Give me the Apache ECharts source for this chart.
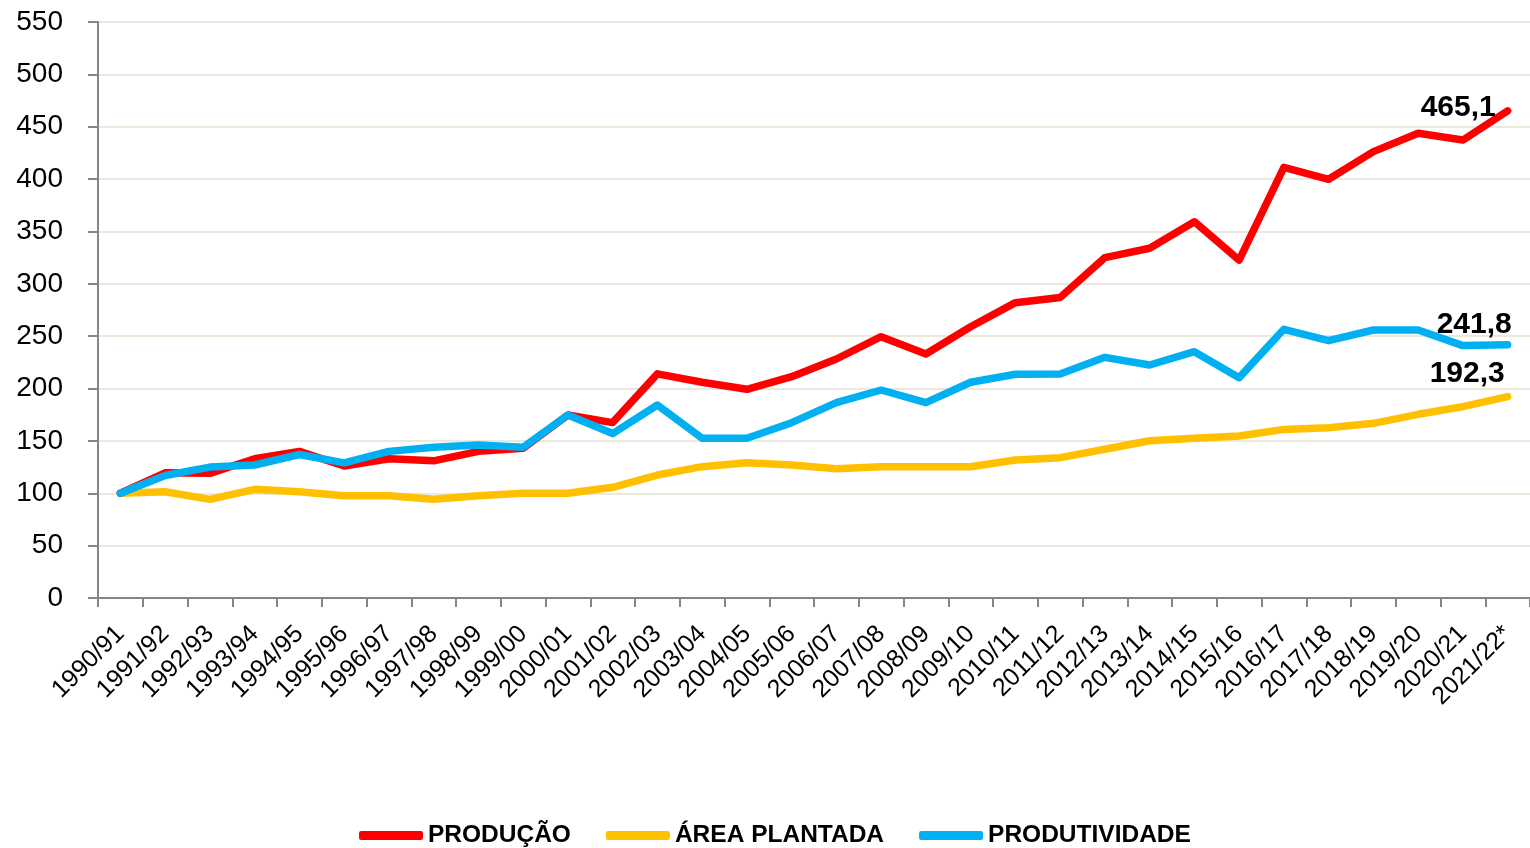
<!DOCTYPE html>
<html>
<head>
<meta charset="utf-8">
<script src="https://cdn.jsdelivr.net/npm/echarts@6/dist/echarts.min.js"></script>
<style>
html,body{margin:0;padding:0;background:#fff;}
#chart{width:1530px;height:848px;}
</style>
</head>
<body>
<div id="chart"></div>
<script>
const categories = ["1990/91","1991/92","1992/93","1993/94","1994/95","1995/96","1996/97","1997/98","1998/99","1999/00","2000/01","2001/02","2002/03","2003/04","2004/05","2005/06","2006/07","2007/08","2008/09","2009/10","2010/11","2011/12","2012/13","2013/14","2014/15","2015/16","2016/17","2017/18","2018/19","2019/20","2020/21","2021/22*"];
const producao = [100,119.5,119,133,140,126,133,131,140,143,174.7,167.5,214,206,199.3,211.3,228.2,249.5,233,259,282,287,325,334,359.3,322.7,411.2,399.8,426.2,443.7,437.3,465.1];
const areaPlantada = [100,101.5,94.2,103.8,101.5,97.7,97.7,94.2,97.7,100,100,105.7,117.4,125.4,129.2,127,123.5,125.4,125.4,125.4,131.8,134,142,150.2,152.5,154.7,161,162.6,166.8,175.4,182.7,192.3];
const produtividade = [100,117,125,127,137,129,140,144,146,144,174.7,157,184.3,152.5,152.5,167.4,186.5,198.6,186.5,206,213.6,213.9,229.8,222.5,235.2,210.4,256.6,245.7,255.9,255.9,241,241.8];
const seriesNames = ["PRODUÇÃO","ÁREA PLANTADA","PRODUTIVIDADE"];
const yTicks = [0,50,100,150,200,250,300,350,400,450,500,550];

const colors = ["#FF0000","#FFC000","#00B0F0"];
const endOffsets = [[-95,-3],[-86,-23],[-79,-20]];
const FONT = "'Liberation Sans', Arial, sans-serif";

function mkSeries(name, data, i){
  return {
    name: name,
    type: 'line',
    data: data,
    showSymbol: false,
    symbol: 'none',
    lineStyle: {color: colors[i], width: 7.5, cap: 'round', join: 'round'},
    itemStyle: {color: colors[i]},
    z: i === 2 ? 4 : (i === 0 ? 3 : 2),
    endLabel: {
      show: true,
      formatter: p => Number(p.value).toFixed(1).replace('.', ','),
      color: '#000',
      fontFamily: FONT,
      fontWeight: 'bold',
      fontSize: 30,
      offset: endOffsets[i]
    },
    emphasis: {disabled: true},
    animation: false
  };
}

const chart = echarts.init(document.getElementById('chart'), null, {renderer: 'canvas'});
chart.setOption({
  animation: false,
  backgroundColor: '#fff',
  grid: {left: 98, right: 0, top: 22, bottom: 250, containLabel: false},
  legend: {
    data: seriesNames,
    top: 818,
    left: 354,
    icon: 'roundRect',
    itemWidth: 64,
    itemHeight: 9,
    itemGap: 35,
    textStyle: {fontFamily: FONT, fontWeight: 'bold', fontSize: 24.5, color: '#000'}
  },
  xAxis: {
    type: 'category',
    data: categories,
    boundaryGap: true,
    axisLine: {lineStyle: {color: '#868686', width: 2}},
    axisTick: {show: true, alignWithLabel: false, length: 9, lineStyle: {color: '#868686', width: 2}},
    axisLabel: {rotate: 45, interval: 0, margin: 32, fontFamily: FONT, fontSize: 25, color: '#000'},
    splitLine: {show: false}
  },
  yAxis: {
    type: 'value',
    min: 0,
    max: 550,
    interval: 50,
    axisLine: {show: true, lineStyle: {color: '#868686', width: 2}},
    axisTick: {show: true, length: 10, lineStyle: {color: '#868686', width: 2}},
    axisLabel: {margin: 35, fontFamily: FONT, fontSize: 28, color: '#000',
      formatter: v => yTicks.includes(v) ? String(v) : ''},
    splitLine: {show: true, lineStyle: {color: '#E4E0D0', width: 1.5}}
  },
  series: [
    mkSeries(seriesNames[0], producao, 0),
    mkSeries(seriesNames[1], areaPlantada, 1),
    mkSeries(seriesNames[2], produtividade, 2)
  ]
});
</script>
</body>
</html>
